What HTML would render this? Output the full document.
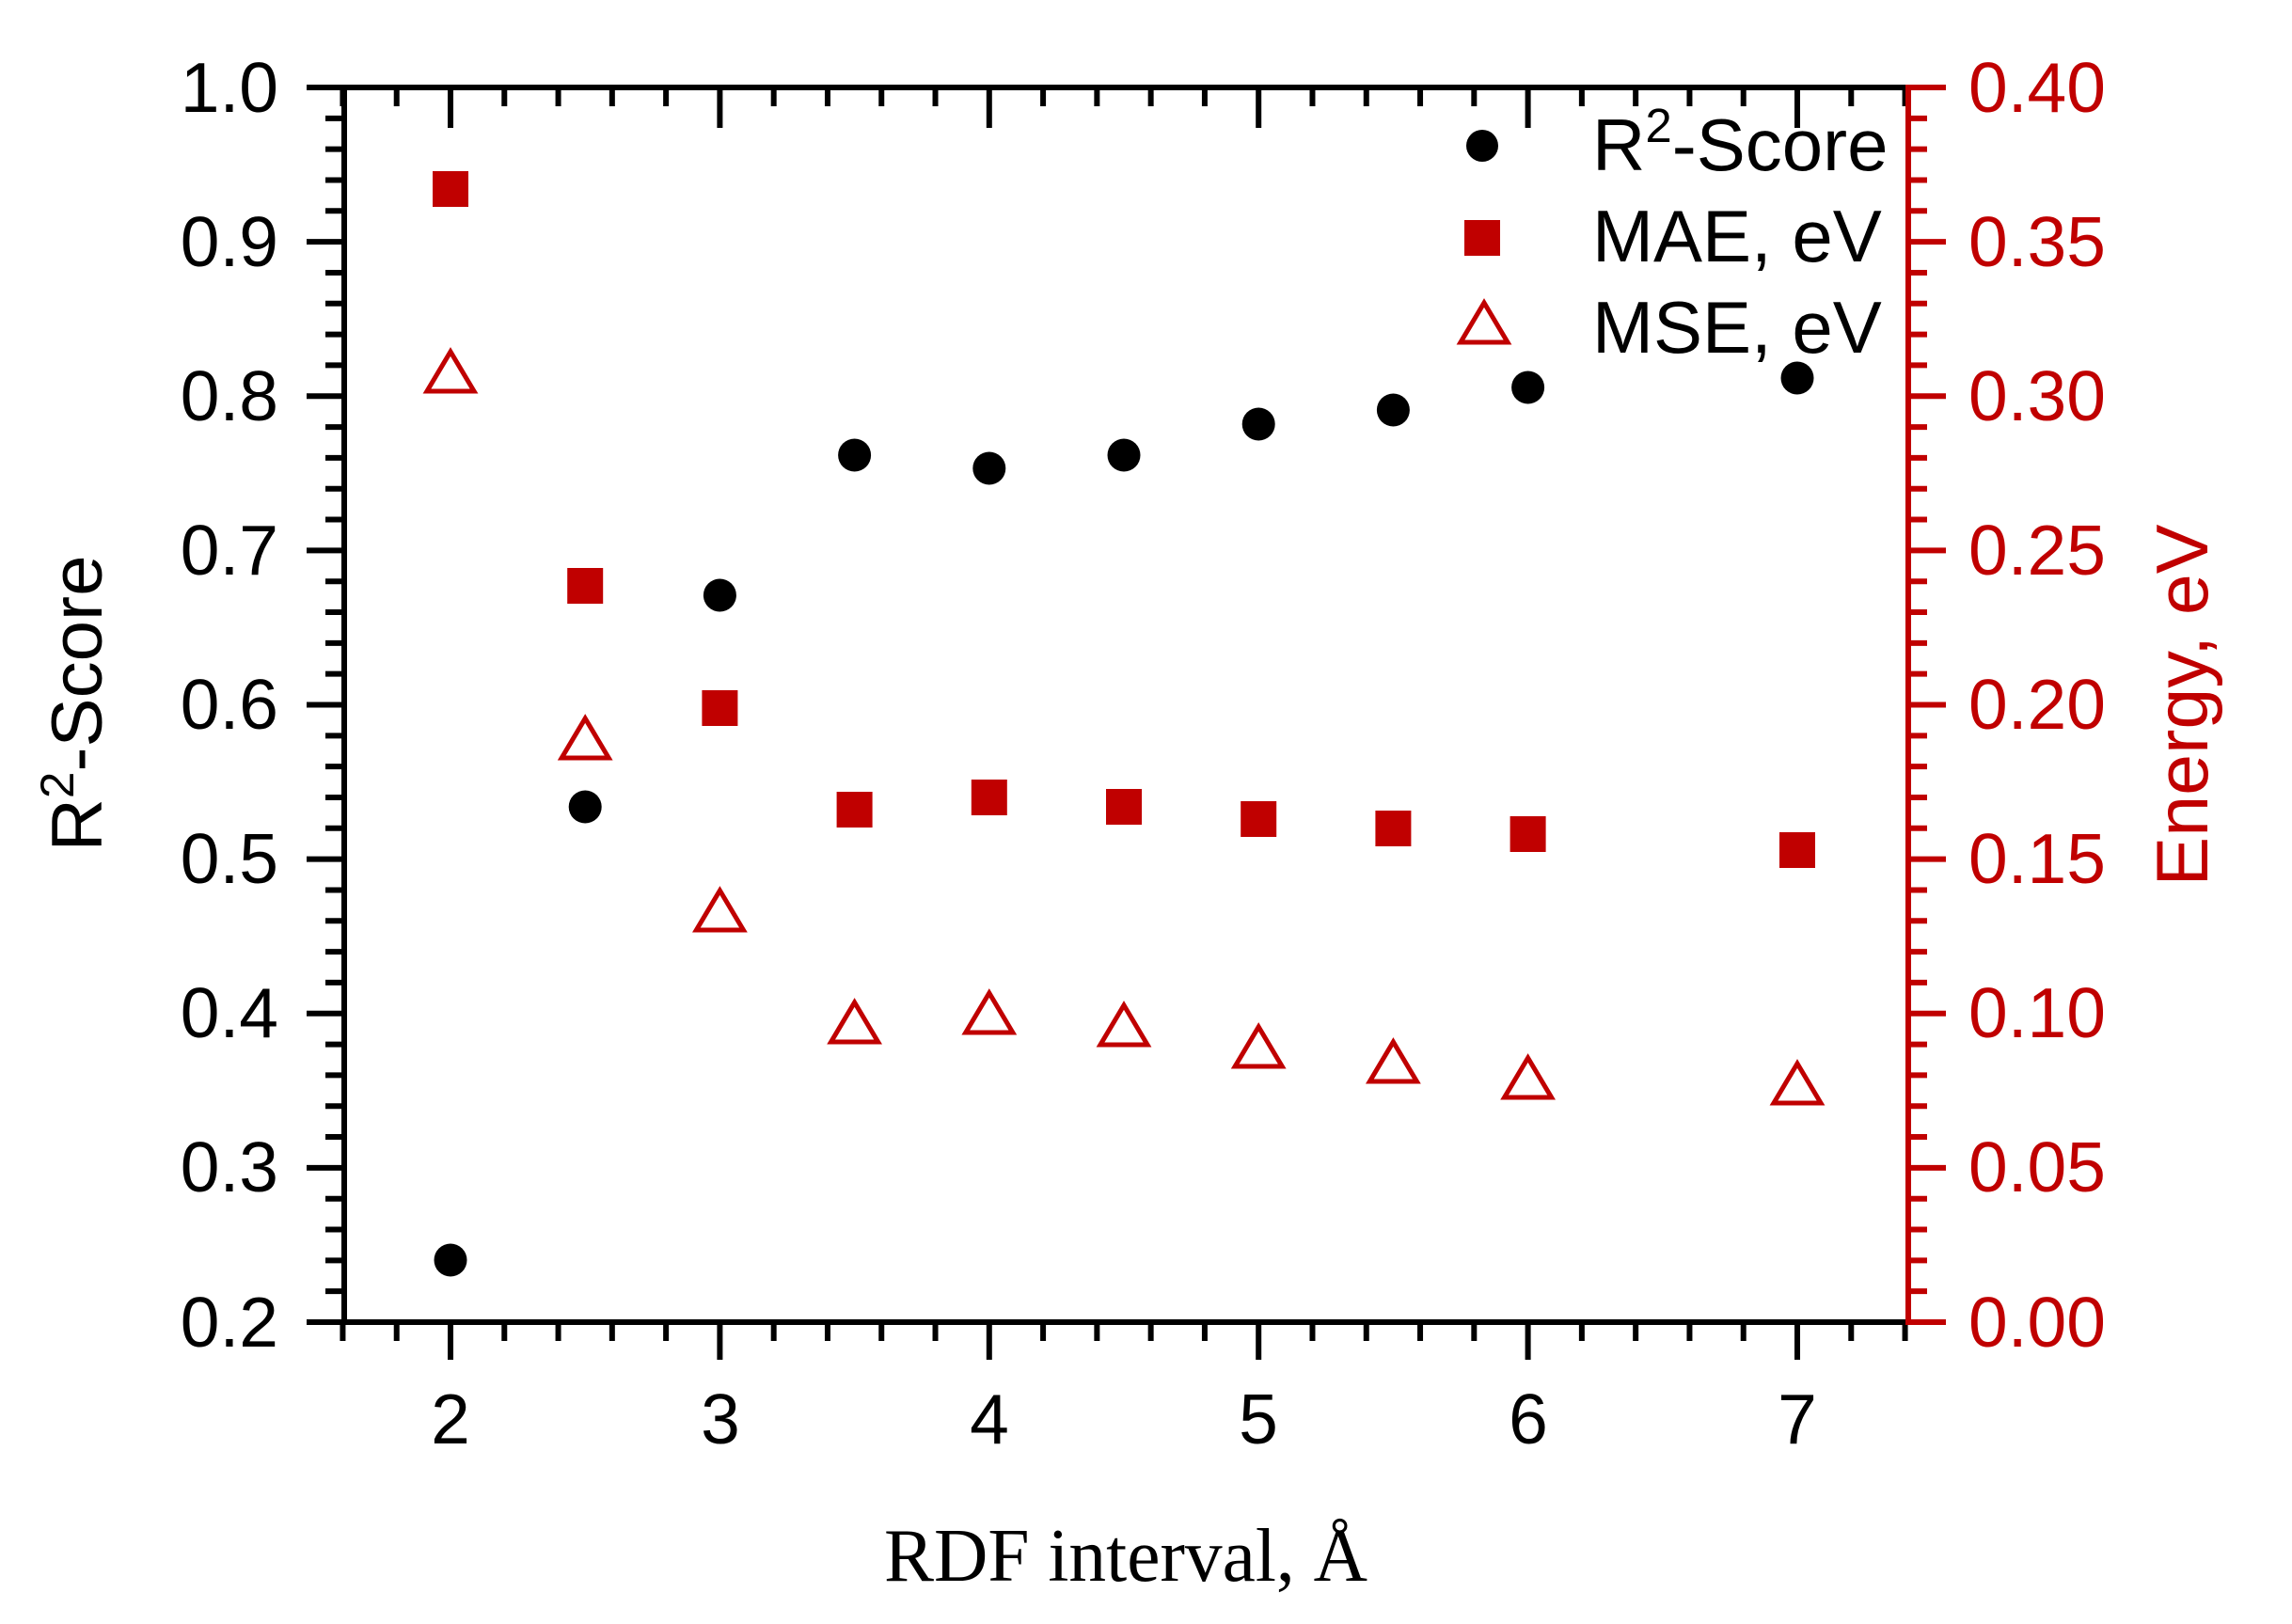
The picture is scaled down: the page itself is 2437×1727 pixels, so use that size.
<!DOCTYPE html>
<html><head><meta charset="utf-8"><style>
html,body{margin:0;padding:0;background:#fff}
svg{display:block}
text{font-family:"Liberation Sans",Arial,sans-serif}
</style></head><body>
<svg id="s" width="2437" height="1727" viewBox="0 0 2437 1727" xmlns="http://www.w3.org/2000/svg">
<g id="ticks"></g>
<line x1="363" y1="93" x2="2029" y2="93" stroke="#000" stroke-width="6"/>
<line x1="326" y1="1406" x2="2029" y2="1406" stroke="#000" stroke-width="6"/>
<line x1="366" y1="93" x2="366" y2="1409" stroke="#000" stroke-width="6"/>
<line x1="2029" y1="90" x2="2029" y2="1409" stroke="#c00000" stroke-width="6"/>
<line x1="2029" y1="93" x2="2069" y2="93" stroke="#c00000" stroke-width="6"/>
<line x1="2029" y1="1406" x2="2069" y2="1406" stroke="#c00000" stroke-width="6"/>

<g font-size="75" text-anchor="end" fill="#000">
<text x="296" y="119">1.0</text>
<text x="296" y="283">0.9</text>
<text x="296" y="447">0.8</text>
<text x="296" y="611">0.7</text>
<text x="296" y="775">0.6</text>
<text x="296" y="939">0.5</text>
<text x="296" y="1103">0.4</text>
<text x="296" y="1267">0.3</text>
<text x="296" y="1432">0.2</text>
</g>
<g font-size="75" text-anchor="start" fill="#c00000">
<text x="2093" y="119">0.40</text>
<text x="2093" y="283">0.35</text>
<text x="2093" y="447">0.30</text>
<text x="2093" y="611">0.25</text>
<text x="2093" y="775">0.20</text>
<text x="2093" y="939">0.15</text>
<text x="2093" y="1103">0.10</text>
<text x="2093" y="1267">0.05</text>
<text x="2093" y="1432">0.00</text>
</g>
<g font-size="75" text-anchor="middle" fill="#000">
<text x="479" y="1535">2</text>
<text x="766" y="1535">3</text>
<text x="1052" y="1535">4</text>
<text x="1338" y="1535">5</text>
<text x="1625" y="1535">6</text>
<text x="1911" y="1535">7</text>
</g>
<text transform="translate(108,748) rotate(-90)" font-size="76" text-anchor="middle" textLength="315" lengthAdjust="spacingAndGlyphs">R<tspan font-size="50" dy="-30">2</tspan><tspan dy="30">-Score</tspan></text>
<text transform="translate(2347,750) rotate(-90)" font-size="78" text-anchor="middle" fill="#c00000" textLength="385" lengthAdjust="spacingAndGlyphs">Energy, eV</text>
<text x="1197" y="1681" font-size="80" text-anchor="middle" textLength="514" lengthAdjust="spacingAndGlyphs" style="font-family:'Liberation Serif',serif">RDF interval, Å</text>

<circle cx="1576" cy="155" r="17" fill="#000"/>
<rect x="1557" y="234" width="38" height="38" fill="#c00000"/>
<polygon points="1553,364 1603,364 1578,322" fill="none" stroke="#c00000" stroke-width="5"/>
<g font-size="78" fill="#000">
<text x="1693" y="181">R<tspan font-size="51" dy="-30">2</tspan><tspan dy="30">-Score</tspan></text>
<text x="1693" y="278">MAE, eV</text>
<text x="1693" y="375">MSE, eV</text>
</g>
<g id="data"></g>
</svg>
<script>
var NS="http://www.w3.org/2000/svg";
function el(p,n,a){var e=document.createElementNS(NS,n);for(var k in a)e.setAttribute(k,a[k]);p.appendChild(e);return e;}
var T=document.getElementById("ticks");
var px=function(x){return 479+(x-2)*286.4;};
for(var i=0;i<=29;i++){var x=1.6+i*0.2;var X=px(x);var maj=Math.abs(x-Math.round(x))<1e-6;
 el(T,"line",{x1:X,y1:1406,x2:X,y2:maj?1446:1426,stroke:"#000","stroke-width":6});
 el(T,"line",{x1:X,y1:93,x2:X,y2:maj?136:113,stroke:"#000","stroke-width":6});}
for(var i=0;i<=40;i++){var Y=1406-i*1313/40;var maj=i%5==0;
 el(T,"line",{x1:maj?326:346,y1:Y,x2:366,y2:Y,stroke:"#000","stroke-width":6});
 el(T,"line",{x1:2029,y1:Y,x2:maj?2069:2049,y2:Y,stroke:"#c00000","stroke-width":6});}
var D=document.getElementById("data");
var xs=[2,2.5,3,3.5,4,4.5,5,5.5,6,7];
var r2=[1340,858,633,484,498,484,451,436,412,402];
var mae=[201,623,753,861,848,858,871,881,887,904];
var mse=[396,786,969,1088,1078,1091,1114,1130,1147,1153];
for(var i=0;i<xs.length;i++){var X=px(xs[i]);
 el(D,"circle",{cx:X,cy:r2[i],r:17.5,fill:"#000"});
 el(D,"rect",{x:X-19,y:mae[i]-19,width:38,height:38,fill:"#c00000"});
 var c=mse[i];
 el(D,"polygon",{points:(X-25)+","+(c+20)+" "+(X+25)+","+(c+20)+" "+X+","+(c-22),fill:"none",stroke:"#c00000","stroke-width":5});}
</script>
</body></html>
